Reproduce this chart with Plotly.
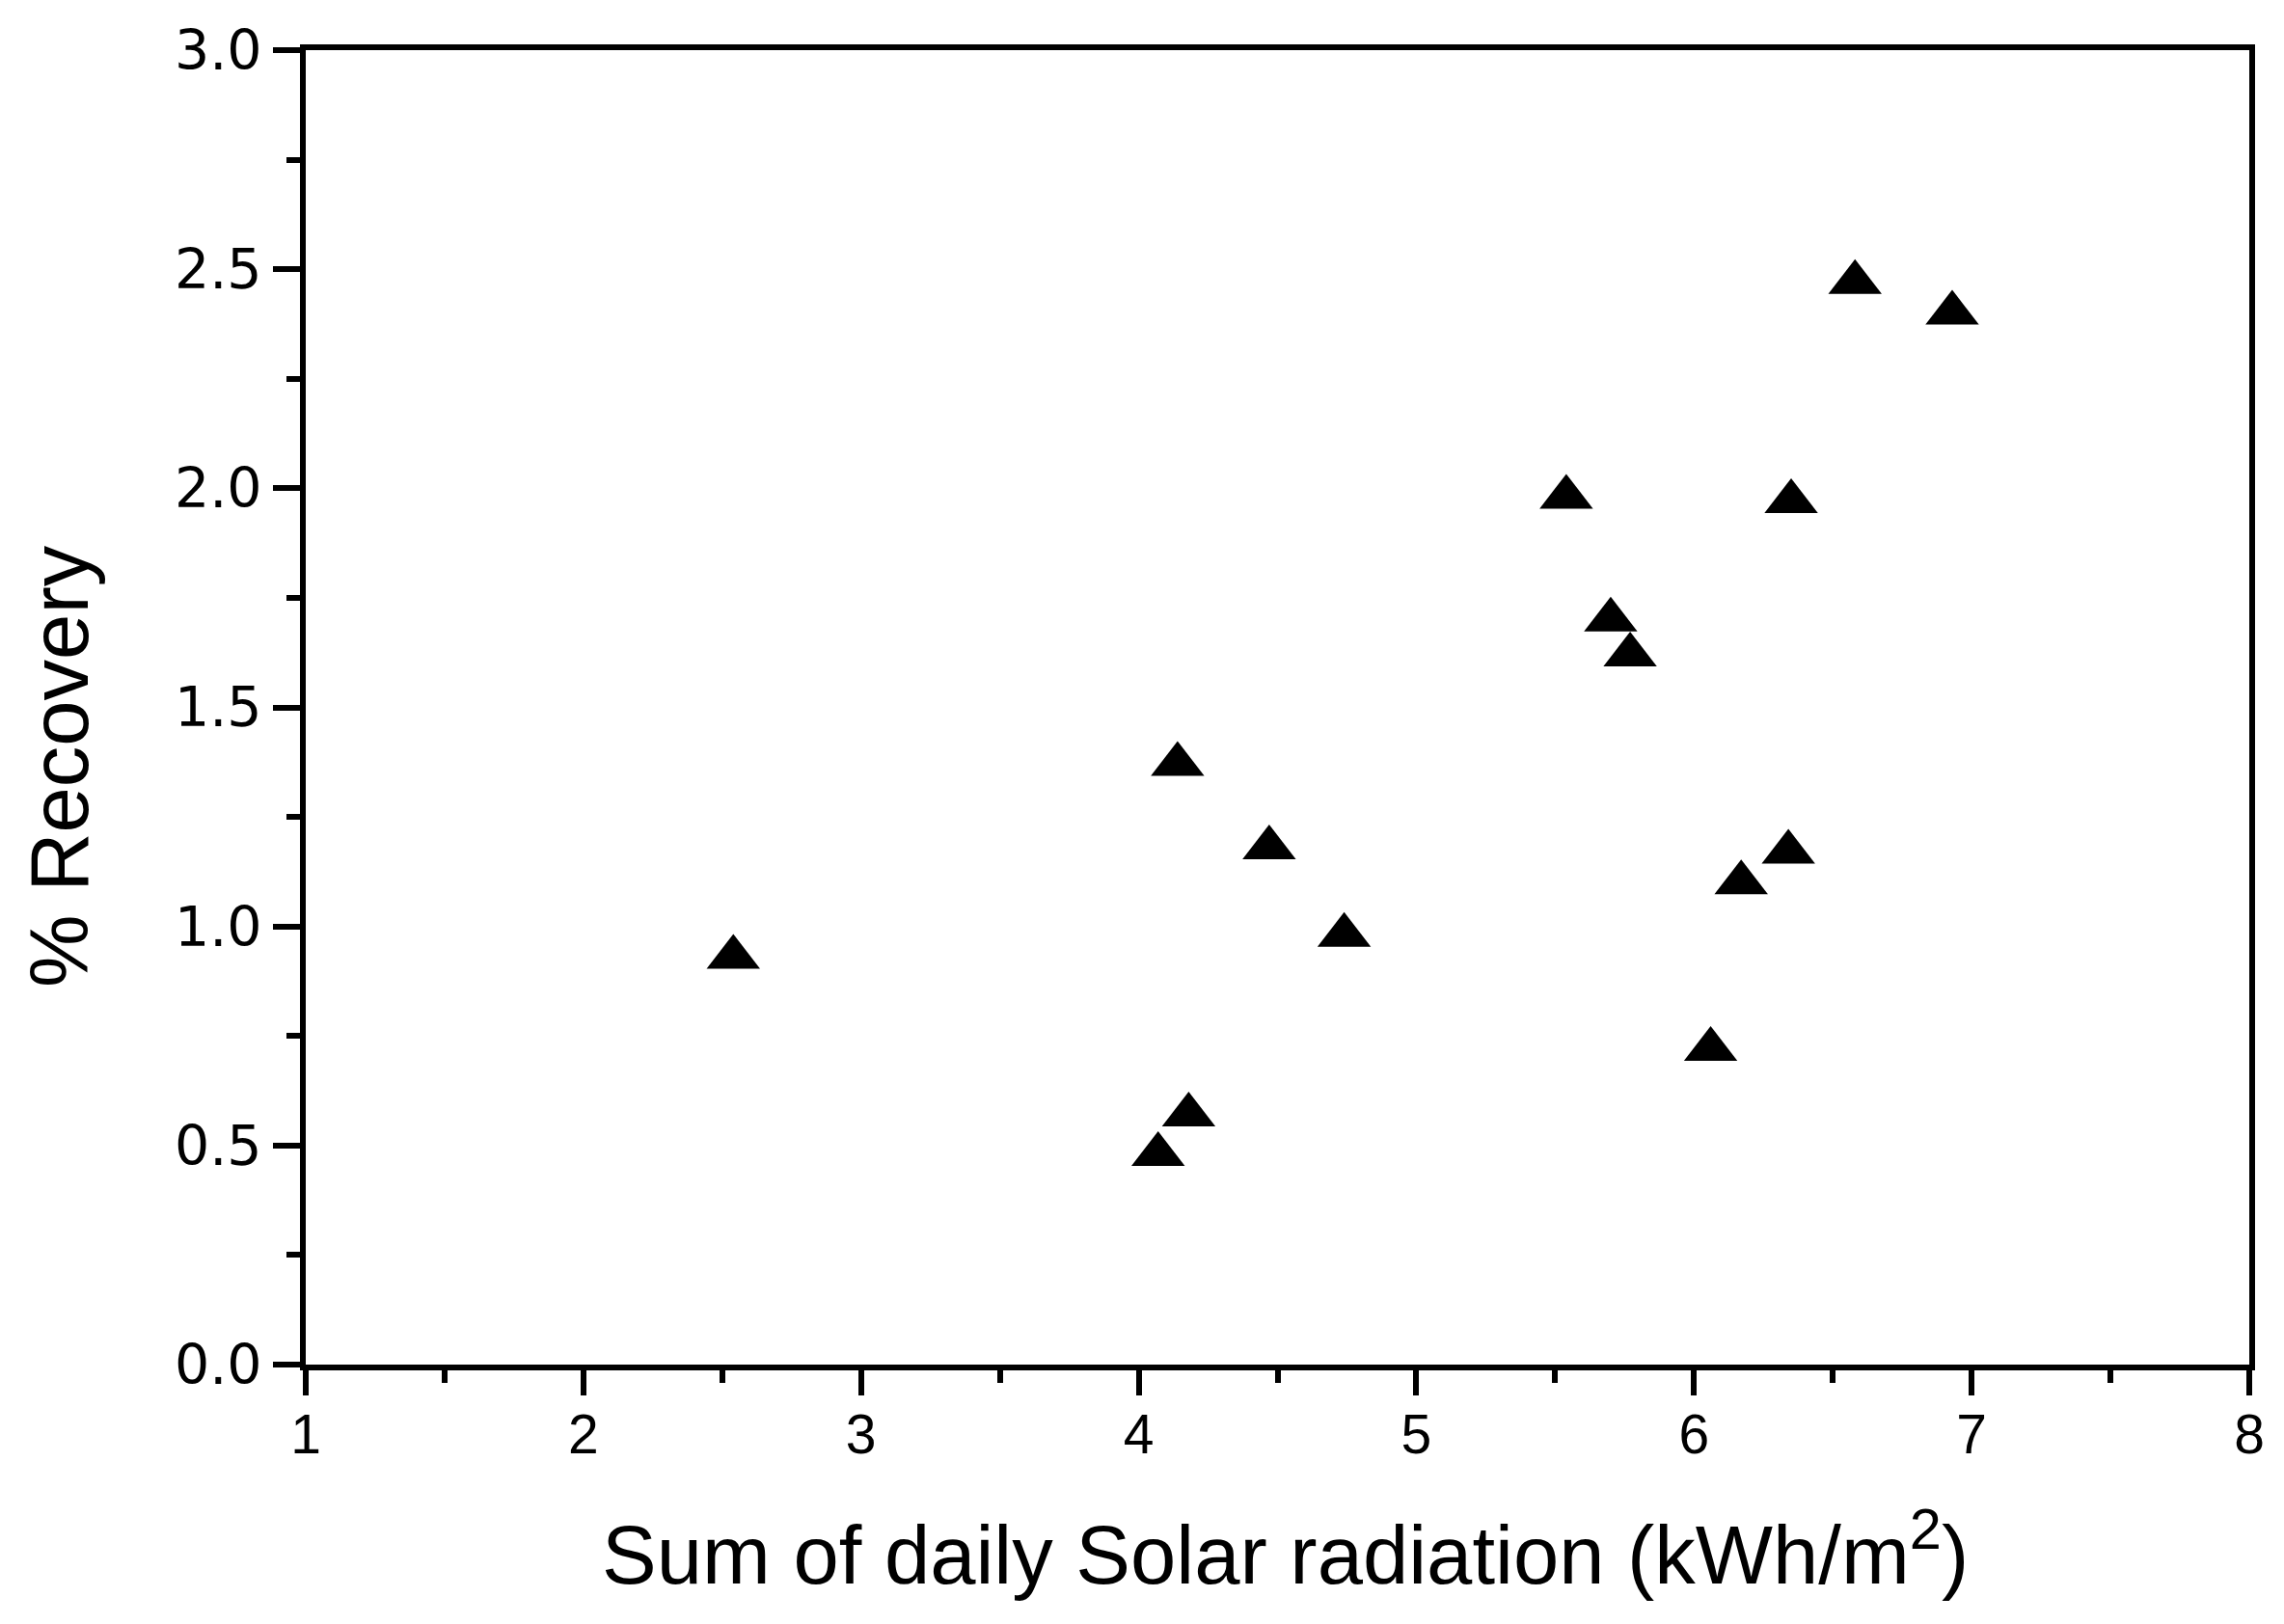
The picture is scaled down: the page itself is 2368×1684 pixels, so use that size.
import plotly.graph_objects as go

# Data
solar_radiation = [2.54, 4.07, 4.18, 4.14, 4.47, 4.74, 5.54, 5.70, 5.77, 6.06, 6.17, 6.34, 6.35, 6.58, 6.93]
recovery_pct = [0.93, 0.48, 0.57, 1.37, 1.18, 0.98, 1.98, 1.70, 1.62, 0.72, 1.10, 1.17, 1.97, 2.47, 2.40]

x_ticks = [1, 2, 3, 4, 5, 6, 7, 8]
y_ticks = [0.0, 0.5, 1.0, 1.5, 2.0, 2.5, 3.0]

x_title = "Sum of daily Solar radiation (kWh/m<sup>2</sup>)"
y_title = "% Recovery"

fig = go.Figure()
fig.add_trace(go.Scatter(
    x=solar_radiation, y=recovery_pct, mode="markers",
    marker=dict(symbol="triangle-up", size=48, color="black", line=dict(width=0)),
    showlegend=False,
))

# page body has an 8px default margin
OFF = 8
W, H = 2368 - 2 * OFF, 1684 - 2 * OFF
ml, mr, mt, mb = 317 - OFF, 36 - OFF, 52 - OFF, 269 - OFF

fig.update_layout(
    width=W, height=H,
    margin=dict(l=ml, r=mr, t=mt, b=mb, pad=0),
    paper_bgcolor="white", plot_bgcolor="white",
    font=dict(family="Liberation Sans, Arial, sans-serif", color="black"),
)

fig.update_xaxes(
    range=[1, 8], tickvals=x_ticks, ticktext=[str(v) for v in x_ticks],
    ticks="outside", ticklen=26, tickwidth=6, tickcolor="black",
    linewidth=6, linecolor="black", mirror=True,
    showgrid=False, zeroline=False,
    tickfont=dict(family="Liberation Sans, Arial", size=57, color="black"),
    ticklabelstandoff=-8,
    minor=dict(dtick=0.5, ticks="outside", ticklen=13, tickwidth=6, tickcolor="black", showgrid=False),
)
fig.update_yaxes(
    range=[0, 3], tickvals=y_ticks, ticktext=[f"{v:.1f}" for v in y_ticks],
    ticks="outside", ticklen=28, tickwidth=6, tickcolor="black",
    linewidth=6, linecolor="black", mirror=True,
    showgrid=False, zeroline=False,
    tickfont=dict(family="DejaVu Sans", size=57, color="black"),
    minor=dict(dtick=0.25, ticks="outside", ticklen=14, tickwidth=6, tickcolor="black", showgrid=False),
)

plot_w = W - ml - mr
plot_h = H - mt - mb
plot_left = ml + OFF
plot_bottom = H - mb + OFF

fig.add_annotation(
    text=x_title, xref="paper", yref="paper",
    x=(1332 - plot_left) / plot_w, y=(plot_bottom - 1606) / plot_h,
    xanchor="center", yanchor="middle", showarrow=False,
    font=dict(family="Liberation Sans, Arial", size=85, color="black"),
)
fig.add_annotation(
    text=y_title, xref="paper", yref="paper",
    x=(62 - plot_left) / plot_w, y=(plot_bottom - 795) / plot_h,
    xanchor="center", yanchor="middle", textangle=-90, showarrow=False,
    font=dict(family="Liberation Sans, Arial", size=85, color="black"),
)

fig.write_html("out.html")
